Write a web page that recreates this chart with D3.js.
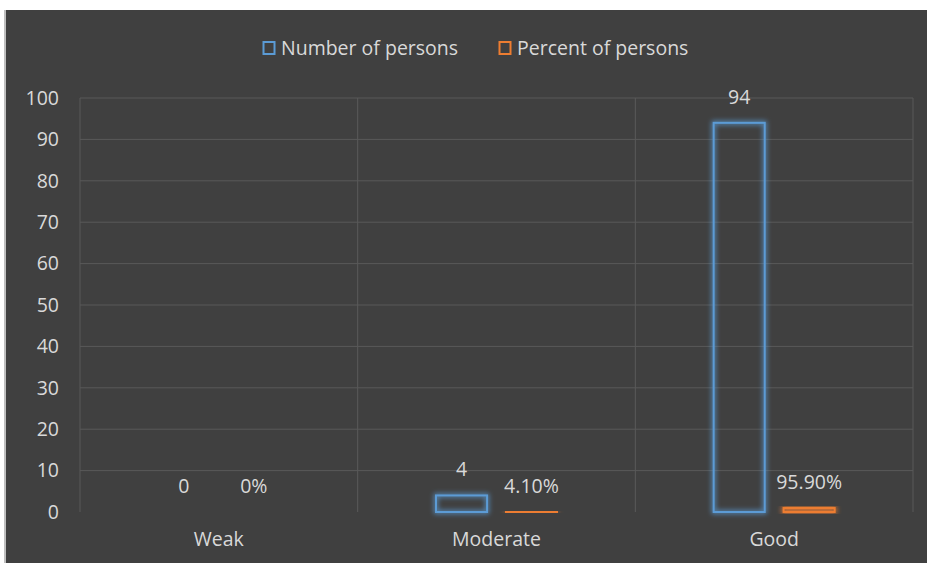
<!DOCTYPE html>
<html lang="en">
<head>
  <meta charset="UTF-8">
  <title>Number and percent of persons</title>
  <script src="https://d3js.org/d3.v7.min.js"></script>
  <style>
    body { margin: 0; background: #fff; }
    text { font-family: "Open Sans", "Noto Sans", sans-serif; fill: #d9d9d9; }
  </style>
</head>
<body>
  <div id="chart"></div>
  <script>
    const categories = ["Weak", "Moderate", "Good"];
    const numberOfPersons = [0, 4, 94];
    const percentOfPersons = [0, 0.041, 0.959];
    const numberLabels = ["0", "4", "94"];
    const percentLabels = ["0%", "4.10%", "95.90%"];
    const yTicks = [0, 10, 20, 30, 40, 50, 60, 70, 80, 90, 100];
    const seriesNames = ["Number of persons", "Percent of persons"];
    const colors = ["#5b9bd5", "#ed7d31"];

    const width = 927, height = 563;
    const margin = { top: 98, right: 14, bottom: 51, left: 80 };
    const innerW = width - margin.left - margin.right;
    const innerH = height - margin.top - margin.bottom;
    const fontSize = "19.5px";

    const svg = d3.select("#chart").append("svg")
      .attr("width", width)
      .attr("height", height);

    // glow filters
    const defs = svg.append("defs");
    colors.forEach((c, i) => {
      const f = defs.append("filter").attr("id", "glow" + i)
        .attr("x", "-50%").attr("y", "-50%").attr("width", "200%").attr("height", "200%");
      f.append("feMorphology").attr("in", "SourceGraphic").attr("operator", "dilate").attr("radius", 1).attr("result", "thick");
      f.append("feGaussianBlur").attr("in", "thick").attr("stdDeviation", 2.5).attr("result", "blur");
      f.append("feComponentTransfer").attr("in", "blur").attr("result", "soft")
        .append("feFuncA").attr("type", "linear").attr("slope", 0.8);
      const m = f.append("feMerge");
      m.append("feMergeNode").attr("in", "soft");
      m.append("feMergeNode").attr("in", "SourceGraphic");
    });

    // background
    svg.append("rect").attr("x", 4).attr("y", 10).attr("width", width - 4).attr("height", height - 10)
      .attr("fill", "#404040");
    svg.append("line").attr("x1", 5).attr("x2", 5).attr("y1", 10).attr("y2", height)
      .attr("stroke", "#bfbfbf").attr("stroke-width", 2);

    const g = svg.append("g").attr("transform", `translate(${margin.left},${margin.top})`);

    const x = d3.scaleBand().domain(categories).range([0, innerW]);
    const y = d3.scaleLinear().domain([0, 100]).range([innerH, 0]);

    // horizontal gridlines
    g.append("g").selectAll("line").data(yTicks.filter(t => t > 0)).join("line")
      .attr("x1", 0).attr("x2", innerW)
      .attr("y1", d => y(d)).attr("y2", d => y(d))
      .attr("stroke", "#595959").attr("stroke-width", 1);

    // vertical gridlines at category boundaries
    const bounds = categories.map(c => x(c)).concat([innerW]);
    g.append("g").selectAll("line").data(bounds).join("line")
      .attr("x1", d => d).attr("x2", d => d)
      .attr("y1", 0).attr("y2", innerH)
      .attr("stroke", "#595959").attr("stroke-width", 1);

    // y axis
    const yAxis = g.append("g").call(d3.axisLeft(y).tickValues(yTicks).tickSize(0).tickPadding(21));
    yAxis.select(".domain").remove();
    yAxis.selectAll("text").style("font-size", fontSize).attr("fill", "#d9d9d9");

    // x axis
    const xAxis = g.append("g").attr("transform", `translate(0,${innerH})`)
      .call(d3.axisBottom(x).tickSize(0).tickPadding(20));
    xAxis.select(".domain").remove();
    xAxis.selectAll("text").style("font-size", fontSize).attr("fill", "#d9d9d9");

    const sub = d3.scaleBand().domain([0, 1]).range([0, x.bandwidth()]).paddingInner(0.27).paddingOuter(1.12);
    const series = [numberOfPersons, percentOfPersons];
    const labels = [numberLabels, percentLabels];

    series.forEach((vals, si) => {
      const grp = g.append("g");
      grp.selectAll("rect").data(vals.map((v, i) => ({ v, c: categories[i] })).filter(d => d.v > 0)).join("rect")
        .attr("x", d => x(d.c) + sub(si))
        .attr("y", d => y(d.v))
        .attr("width", sub.bandwidth())
        .attr("height", d => Math.max(innerH - y(d.v), 0.5))
        .attr("fill", "none")
        .attr("stroke", colors[si])
        .attr("stroke-width", 2)
        .attr("filter", `url(#glow${si})`);

      grp.selectAll("text").data(vals).join("text")
        .attr("x", (d, i) => x(categories[i]) + sub(si) + sub.bandwidth() / 2)
        .attr("y", d => y(d) - 19)
        .attr("text-anchor", "middle")
        .style("font-size", fontSize)
        .text((d, i) => labels[si][i]);
    });

    // legend
    const legend = svg.append("g").attr("transform", "translate(263,48)");
    const lx = [0, 236];
    seriesNames.forEach((name, i) => {
      const item = legend.append("g").attr("transform", `translate(${lx[i]},0)`);
      item.append("rect").attr("x", 0.5).attr("y", -6).attr("width", 11).attr("height", 12)
        .attr("fill", "none").attr("stroke", colors[i]).attr("stroke-width", 2);
      item.append("text").attr("x", 18).attr("y", 7).style("font-size", fontSize).text(name);
    });
  </script>
</body>
</html>
